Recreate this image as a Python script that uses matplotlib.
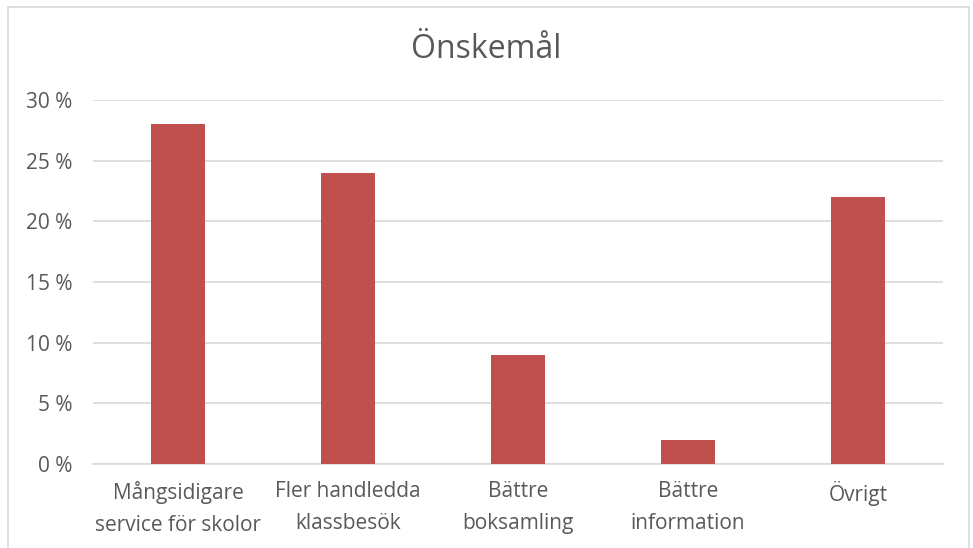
import matplotlib

matplotlib.use("Agg")
import matplotlib.pyplot as plt
from matplotlib.patches import Rectangle

categories = [
    "Mångsidigare\nservice för skolor",
    "Fler handledda\nklassbesök",
    "Bättre\nboksamling",
    "Bättre\ninformation",
    "Övrigt",
]
values = [28, 24, 9, 2, 22]
y_ticks = [0, 5, 10, 15, 20, 25, 30]
y_tick_labels = [f"{t} %" for t in y_ticks]

TEXT = "#595959"
GRID = "#D9D9D9"
BAR = "#C0504D"

plt.rcParams["font.family"] = ["Open Sans", "DejaVu Sans"]

fig = plt.figure(figsize=(9.73, 5.48), dpi=100)
ax = fig.add_axes([0.0956, 0.1533, 0.8736, 0.6642])

# chart frame like the office export
fig.patches.append(Rectangle((8 / 973, -0.05), 961 / 973, 1.05 - 7 / 548,
                             transform=fig.transFigure, fill=False,
                             edgecolor="#D9D9D9", linewidth=1.2))

x = list(range(len(categories)))
ax.bar(x, values, width=0.315, color=BAR, zorder=3)

ax.set_xlim(-0.5, len(categories) - 0.5)
ax.set_ylim(0, 30)
ax.set_yticks(y_ticks)
ax.set_yticklabels(y_tick_labels)
ax.set_xticks(x)
ax.set_xticklabels(categories, linespacing=1.68)

ax.grid(axis="y", color=GRID, linewidth=1.2, zorder=0)
for s in ["top", "right", "left"]:
    ax.spines[s].set_visible(False)
ax.spines["bottom"].set_color(GRID)
ax.spines["bottom"].set_linewidth(1.2)
ax.tick_params(axis="both", length=0, labelsize=15, labelcolor=TEXT)
ax.tick_params(axis="y", pad=15)
ax.tick_params(axis="x", pad=12)

fig.text(0.5, 1 - 49 / 548, "Önskemål", ha="center", va="center",
         fontsize=23, color=TEXT)

fig.savefig("out.png", dpi=100)
